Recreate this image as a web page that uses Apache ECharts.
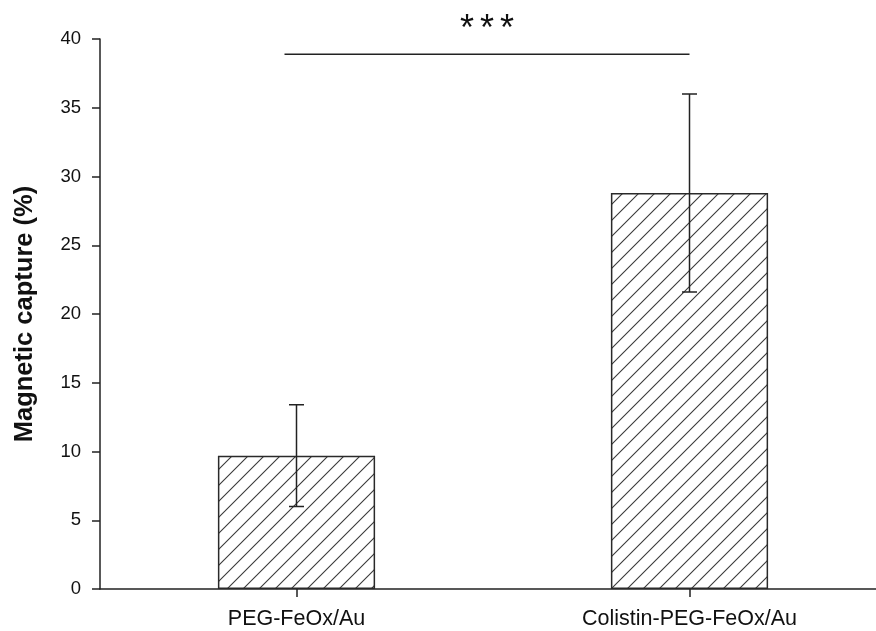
<!DOCTYPE html>
<html>
<head>
<meta charset="utf-8">
<style>
  html, body { margin: 0; padding: 0; background: #fff; }
  #chart { width: 876px; height: 631px; }
</style>
<script src="https://cdn.jsdelivr.net/npm/echarts@6/dist/echarts.min.js"></script>
</head>
<body>
<div id="chart"></div>
<script>
// Groups on the x axis
const categories = ['PEG-FeOx/Au', 'Colistin-PEG-FeOx/Au'];
// Mean magnetic capture (%) and its spread (±)
const captureMean = [9.7, 28.8];
const captureErr = [3.7, 7.2];
// Y axis ticks
const yTicks = [0, 5, 10, 15, 20, 25, 30, 35, 40];
// Significance bracket between the two groups
const sigFrom = [0];
const sigTo = [1];
const sigLevel = [38.9];
const sigText = ['***'];

// Diagonal hatch fill for the bars
function hatchPattern() {
  const s = 16;
  const c = document.createElement('canvas');
  c.width = s; c.height = s;
  const ctx = c.getContext('2d');
  ctx.fillStyle = '#ffffff';
  ctx.fillRect(0, 0, s, s);
  ctx.strokeStyle = '#3a3a3a';
  ctx.lineWidth = 1.1;
  ctx.beginPath();
  ctx.moveTo(-2, s + 2); ctx.lineTo(s + 2, -2);
  ctx.moveTo(-2, 2); ctx.lineTo(2, -2);
  ctx.moveTo(s - 2, s + 2); ctx.lineTo(s + 2, s - 2);
  ctx.stroke();
  return c;
}

const errData = categories.map((c, i) => [i, captureMean[i] - captureErr[i], captureMean[i] + captureErr[i]]);
const sigData = sigFrom.map((f, i) => [f, sigTo[i], sigLevel[i], sigText[i]]);

const chart = echarts.init(document.getElementById('chart'), null, { renderer: 'canvas' });
chart.setOption({
  animation: false,
  backgroundColor: '#ffffff',
  // the plot area runs a little past the right edge of the canvas
  grid: { left: 100, width: 786, top: 39, bottom: 42, containLabel: false, outerBoundsMode: 'none' },
  xAxis: {
    type: 'category',
    data: categories,
    axisLine: { show: true, lineStyle: { color: '#222', width: 1.5 } },
    axisTick: { show: true, alignWithLabel: true, length: 8, lineStyle: { color: '#222', width: 1.5 } },
    axisLabel: { color: '#111', fontFamily: 'Liberation Sans, Arial', fontSize: 21.5, margin: 19 },
    splitLine: { show: false }
  },
  yAxis: {
    type: 'value',
    min: yTicks[0],
    max: yTicks[yTicks.length - 1],
    interval: yTicks[1] - yTicks[0],
    name: 'Magnetic capture (%)',
    nameLocation: 'middle',
    nameGap: 62,
    nameTextStyle: { color: '#111', fontFamily: 'Liberation Sans, Arial', fontSize: 25.5, fontWeight: 'bold' },
    axisLine: { show: true, lineStyle: { color: '#222', width: 1.5 } },
    axisTick: { show: true, length: 8, lineStyle: { color: '#222', width: 1.5 } },
    axisLabel: { color: '#111', fontFamily: 'Liberation Sans, Arial', fontSize: 18.5, margin: 19 },
    splitLine: { show: false }
  },
  series: [
    {
      type: 'bar',
      data: captureMean,
      barWidth: '40%',
      itemStyle: {
        color: { image: hatchPattern(), repeat: 'repeat' },
        borderColor: '#2a2a2a',
        borderWidth: 1.5
      },
      z: 2
    },
    {
      type: 'custom',
      data: errData,
      z: 5,
      renderItem: function (params, api) {
        const x = api.value(0);
        const lo = api.coord([x, api.value(1)]);
        const hi = api.coord([x, api.value(2)]);
        const half = 7.5;
        const style = { stroke: '#222', lineWidth: 1.5 };
        return {
          type: 'group',
          children: [
            { type: 'line', shape: { x1: lo[0], y1: lo[1], x2: hi[0], y2: hi[1] }, style },
            { type: 'line', shape: { x1: hi[0] - half, y1: hi[1], x2: hi[0] + half, y2: hi[1] }, style },
            { type: 'line', shape: { x1: lo[0] - half, y1: lo[1], x2: lo[0] + half, y2: lo[1] }, style }
          ]
        };
      }
    },
    {
      type: 'custom',
      data: sigData,
      z: 5,
      clip: false,
      renderItem: function (params, api) {
        const a = api.coord([api.value(0), api.value(2)]);
        const b = api.coord([api.value(1), api.value(2)]);
        const x1 = a[0] - 12;
        const x2 = b[0];
        const mid = (x1 + x2) / 2;
        const stars = String(sigData[params.dataIndex][3]).split('');
        const pitch = 20;
        const children = [
          { type: 'line', shape: { x1: x1, y1: a[1], x2: x2, y2: b[1] }, style: { stroke: '#222', lineWidth: 1.5 } }
        ];
        stars.forEach((ch, k) => {
          children.push({
            type: 'text',
            x: mid + (k - (stars.length - 1) / 2) * pitch,
            y: a[1] - 24,
            style: {
              text: ch,
              fill: '#111',
              font: '36px Liberation Sans, Arial',
              align: 'center',
              verticalAlign: 'middle'
            }
          });
        });
        return { type: 'group', children: children };
      }
    }
  ]
});
</script>
</body>
</html>
